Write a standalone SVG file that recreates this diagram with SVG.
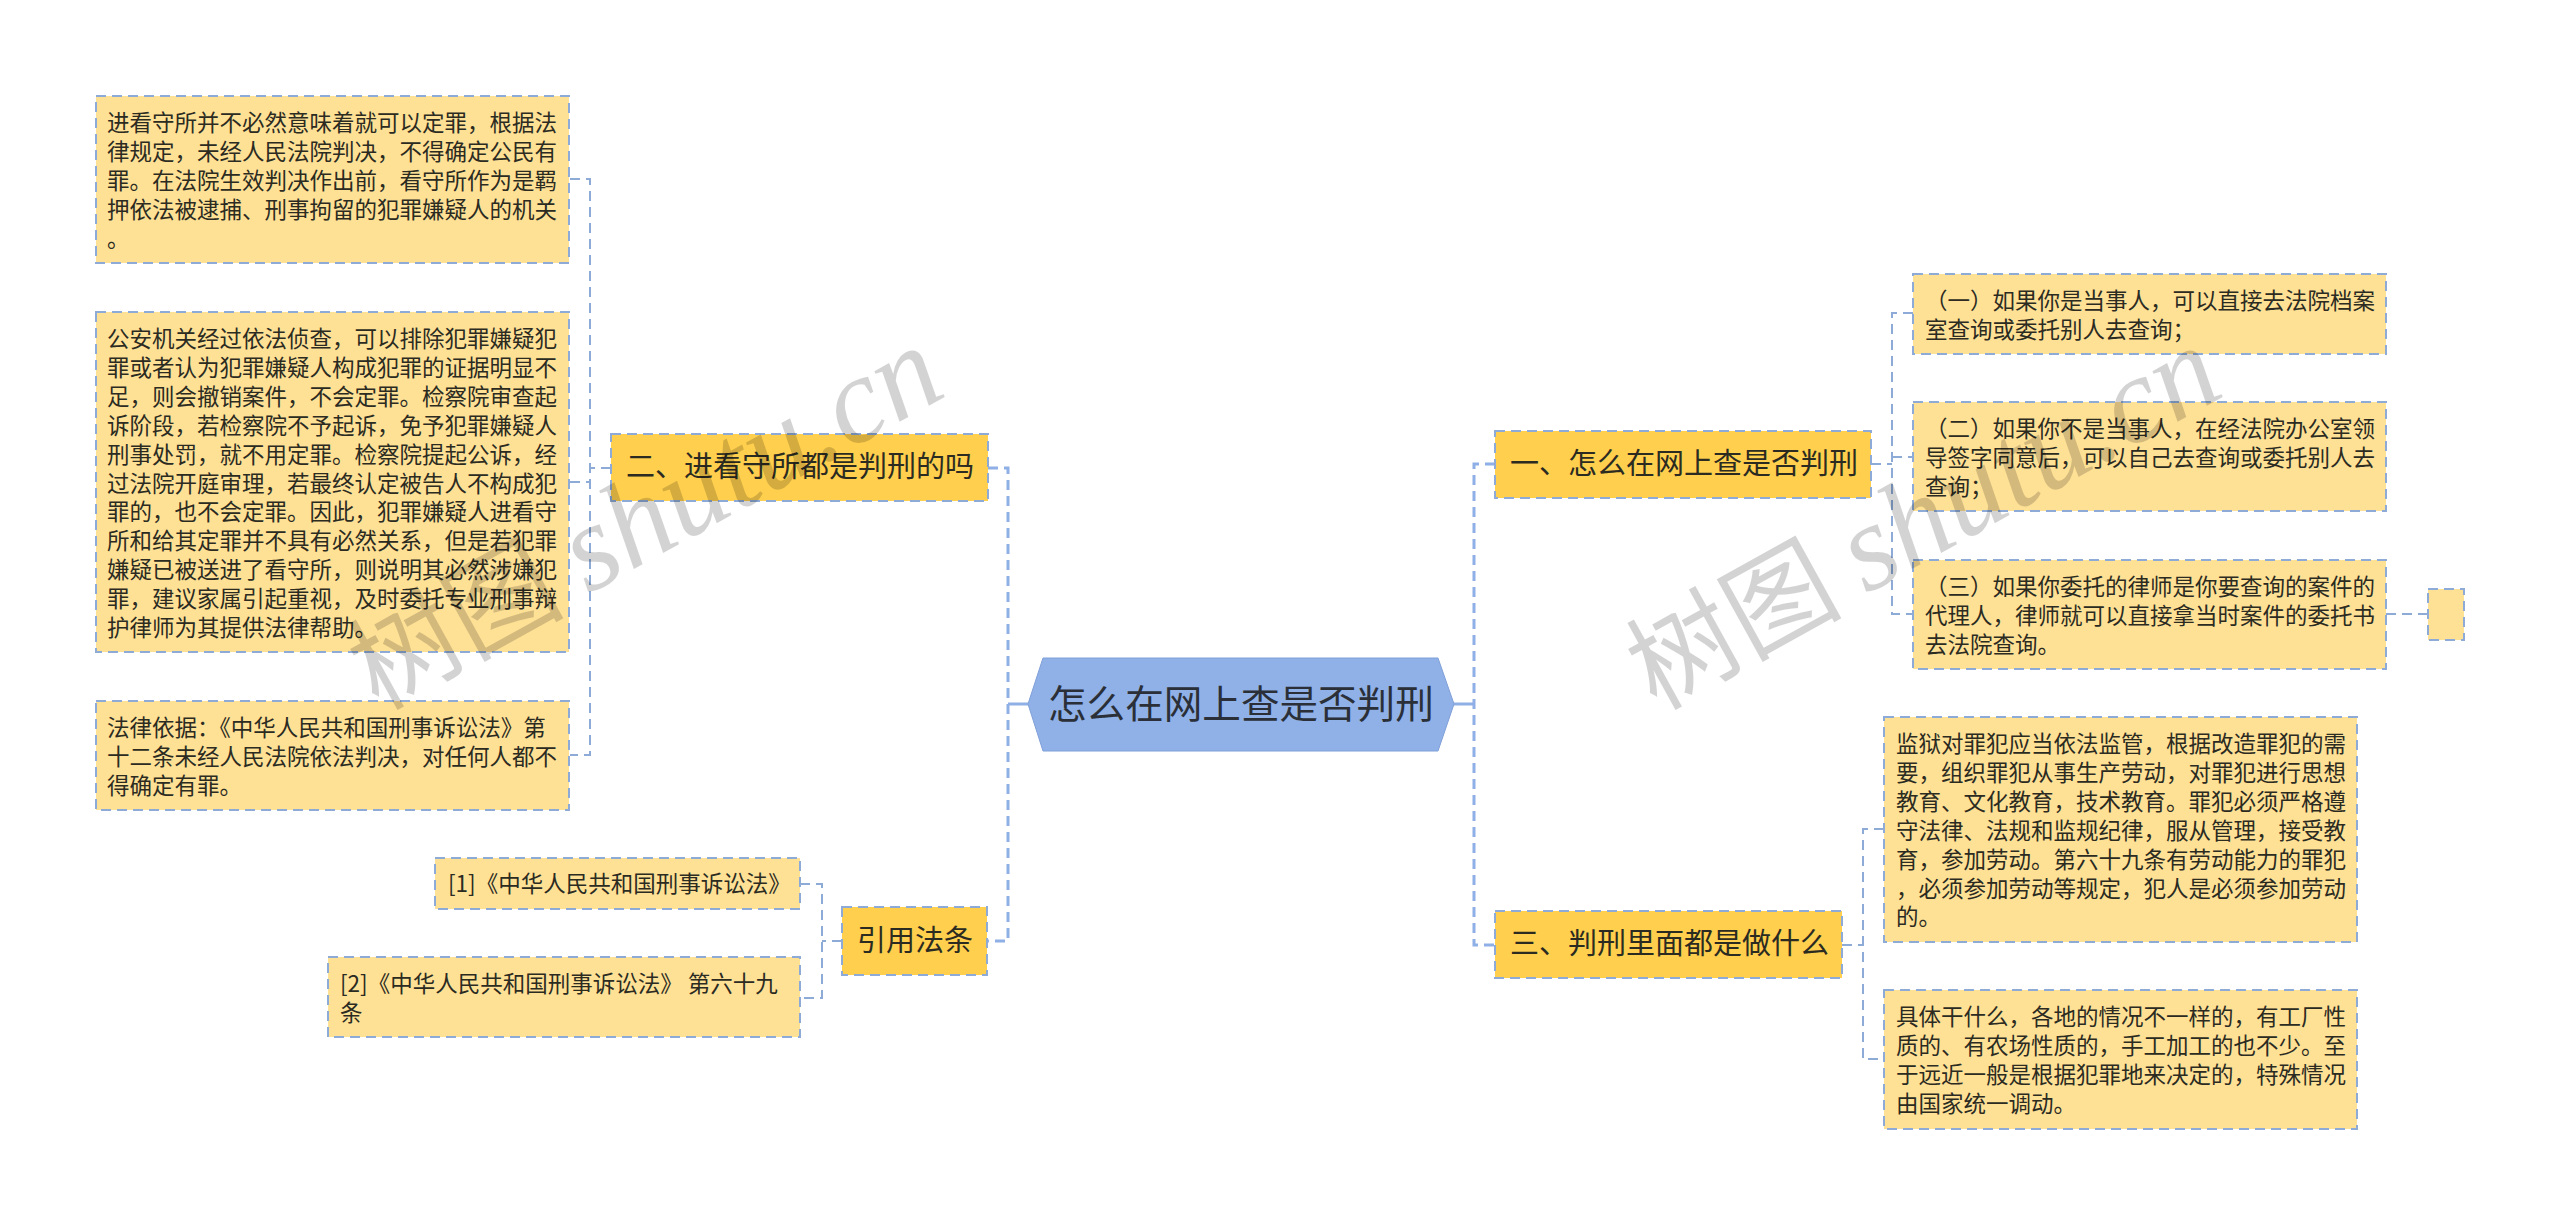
<svg xmlns="http://www.w3.org/2000/svg" width="2560" height="1225" viewBox="0 0 2560 1225">
<style>
text{font-family:"Noto Sans CJK SC","Noto Sans",sans-serif;fill:#2b2b22}
.leaf rect{fill:#ffe196;stroke:#8eaad6;stroke-width:2;stroke-dasharray:10 6}
.branch rect{fill:#ffcf4d;stroke:#8eaad6;stroke-width:2;stroke-dasharray:10 6}
.leaf text{font-size:22.5px}
.branch text{font-size:29px}
.thin{fill:none;stroke:#8eaad6;stroke-width:2;stroke-dasharray:10 6}
.thick{fill:none;stroke:#8fb0e6;stroke-width:3;stroke-dasharray:10 6}
.solid{fill:none;stroke:#8fb0e6;stroke-width:3}
.wm{font-size:108px;fill:#000;opacity:.17}
.wml{font-family:"Liberation Serif",serif;font-size:123px;font-style:italic}
</style>
<rect width="2560" height="1225" fill="#fff"/>
<g id="connectors">
<path class="solid" d="M1008 704H1028M1454 704H1474"/>
<path class="thick" d="M988 468H1008V941H987"/>
<path class="thick" d="M1495 464H1474V945H1495"/>
<path class="thin" d="M611 468H590M570 179H590V755H570M570 482H590"/>
<path class="thin" d="M842 941H822M800 884H822V998H800"/>
<path class="thin" d="M1871 464H1892M1913 313H1892V614H1913M1892 457H1913"/>
<path class="thin" d="M2386 614H2428"/>
<path class="thin" d="M1842 945H1863M1884 829H1863V1059H1884"/>
</g>
<g id="root">
<polygon points="1028,704 1043,658 1438,658 1454,704 1438,751 1043,751" fill="#8fb1e8" stroke="#7f9fd8" stroke-width="1"/>
<text x="1048" y="718" style="font-size:38.6px;fill:#2a2f38">怎么在网上查是否判刑</text>
</g>
<g id="b2" class="branch"><rect x="611" y="434" width="377" height="67"/><text x="626" y="477">二、进看守所都是判刑的吗</text></g>
<g id="b4" class="branch"><rect x="842" y="907" width="145" height="68"/><text x="857" y="951">引用法条</text></g>
<g id="b1" class="branch"><rect x="1495" y="431" width="376" height="67"/><text x="1510" y="474">一、怎么在网上查是否判刑</text></g>
<g id="b3" class="branch"><rect x="1495" y="911" width="347" height="67"/><text x="1510" y="954">三、判刑里面都是做什么</text></g>
<g id="l1" class="leaf"><rect x="96" y="96" width="473" height="167"/><text y="131"><tspan x="107">进看守所并不必然意味着就可以定罪，根据法</tspan><tspan x="107" dy="28.9">律规定，未经人民法院判决，不得确定公民有</tspan><tspan x="107" dy="28.9">罪。在法院生效判决作出前，看守所作为是羁</tspan><tspan x="107" dy="28.9">押依法被逮捕、刑事拘留的犯罪嫌疑人的机关</tspan><tspan x="107" dy="28.9">。</tspan></text></g>
<g id="l2" class="leaf"><rect x="96" y="312" width="473" height="340"/><text y="347"><tspan x="107">公安机关经过依法侦查，可以排除犯罪嫌疑犯</tspan><tspan x="107" dy="28.9">罪或者认为犯罪嫌疑人构成犯罪的证据明显不</tspan><tspan x="107" dy="28.9">足，则会撤销案件，不会定罪。检察院审查起</tspan><tspan x="107" dy="28.9">诉阶段，若检察院不予起诉，免予犯罪嫌疑人</tspan><tspan x="107" dy="28.9">刑事处罚，就不用定罪。检察院提起公诉，经</tspan><tspan x="107" dy="28.9">过法院开庭审理，若最终认定被告人不构成犯</tspan><tspan x="107" dy="28.9">罪的，也不会定罪。因此，犯罪嫌疑人进看守</tspan><tspan x="107" dy="28.9">所和给其定罪并不具有必然关系，但是若犯罪</tspan><tspan x="107" dy="28.9">嫌疑已被送进了看守所，则说明其必然涉嫌犯</tspan><tspan x="107" dy="28.9">罪，建议家属引起重视，及时委托专业刑事辩</tspan><tspan x="107" dy="28.9">护律师为其提供法律帮助。</tspan></text></g>
<g id="l3" class="leaf"><rect x="96" y="701" width="473" height="109"/><text y="736"><tspan x="107">法律依据：《中华人民共和国刑事诉讼法》第</tspan><tspan x="107" dy="28.9">十二条未经人民法院依法判决，对任何人都不</tspan><tspan x="107" dy="28.9">得确定有罪。</tspan></text></g>
<g id="l4" class="leaf"><rect x="435" y="858" width="365" height="51"/><text x="448" y="892">[1]《中华人民共和国刑事诉讼法》</text></g>
<g id="l5" class="leaf"><rect x="328" y="957" width="472" height="80"/><text y="992"><tspan x="340">[2]《中华人民共和国刑事诉讼法》 第六十九</tspan><tspan x="340" dy="28.9">条</tspan></text></g>
<g id="l6" class="leaf"><rect x="1913" y="274" width="473" height="80"/><text y="309"><tspan x="1925">（一）如果你是当事人，可以直接去法院档案</tspan><tspan x="1925" dy="28.9">室查询或委托别人去查询；</tspan></text></g>
<g id="l7" class="leaf"><rect x="1913" y="402" width="473" height="109"/><text y="437"><tspan x="1925">（二）如果你不是当事人，在经法院办公室领</tspan><tspan x="1925" dy="28.9">导签字同意后，可以自己去查询或委托别人去</tspan><tspan x="1925" dy="28.9">查询；</tspan></text></g>
<g id="l8" class="leaf"><rect x="1913" y="560" width="473" height="109"/><text y="595"><tspan x="1925">（三）如果你委托的律师是你要查询的案件的</tspan><tspan x="1925" dy="28.9">代理人，律师就可以直接拿当时案件的委托书</tspan><tspan x="1925" dy="28.9">去法院查询。</tspan></text></g>
<g id="l9" class="leaf"><rect x="2428" y="589" width="36" height="51"/></g>
<g id="l10" class="leaf"><rect x="1884" y="717" width="473" height="225"/><text y="752"><tspan x="1896">监狱对罪犯应当依法监管，根据改造罪犯的需</tspan><tspan x="1896" dy="28.9">要，组织罪犯从事生产劳动，对罪犯进行思想</tspan><tspan x="1896" dy="28.9">教育、文化教育，技术教育。罪犯必须严格遵</tspan><tspan x="1896" dy="28.9">守法律、法规和监规纪律，服从管理，接受教</tspan><tspan x="1896" dy="28.9">育，参加劳动。第六十九条有劳动能力的罪犯</tspan><tspan x="1896" dy="28.9">，必须参加劳动等规定，犯人是必须参加劳动</tspan><tspan x="1896" dy="28.9">的。</tspan></text></g>
<g id="l11" class="leaf"><rect x="1884" y="990" width="473" height="139"/><text y="1025"><tspan x="1896">具体干什么，各地的情况不一样的，有工厂性</tspan><tspan x="1896" dy="28.9">质的、有农场性质的，手工加工的也不少。至</tspan><tspan x="1896" dy="28.9">于远近一般是根据犯罪地来决定的，特殊情况</tspan><tspan x="1896" dy="28.9">由国家统一调动。</tspan></text></g>
<text class="wm" transform="translate(378 711) rotate(-29)">树图 <tspan class="wml">shutu.cn</tspan></text>
<text class="wm" transform="translate(1656 711) rotate(-29)">树图 <tspan class="wml">shutu.cn</tspan></text>
</svg>
